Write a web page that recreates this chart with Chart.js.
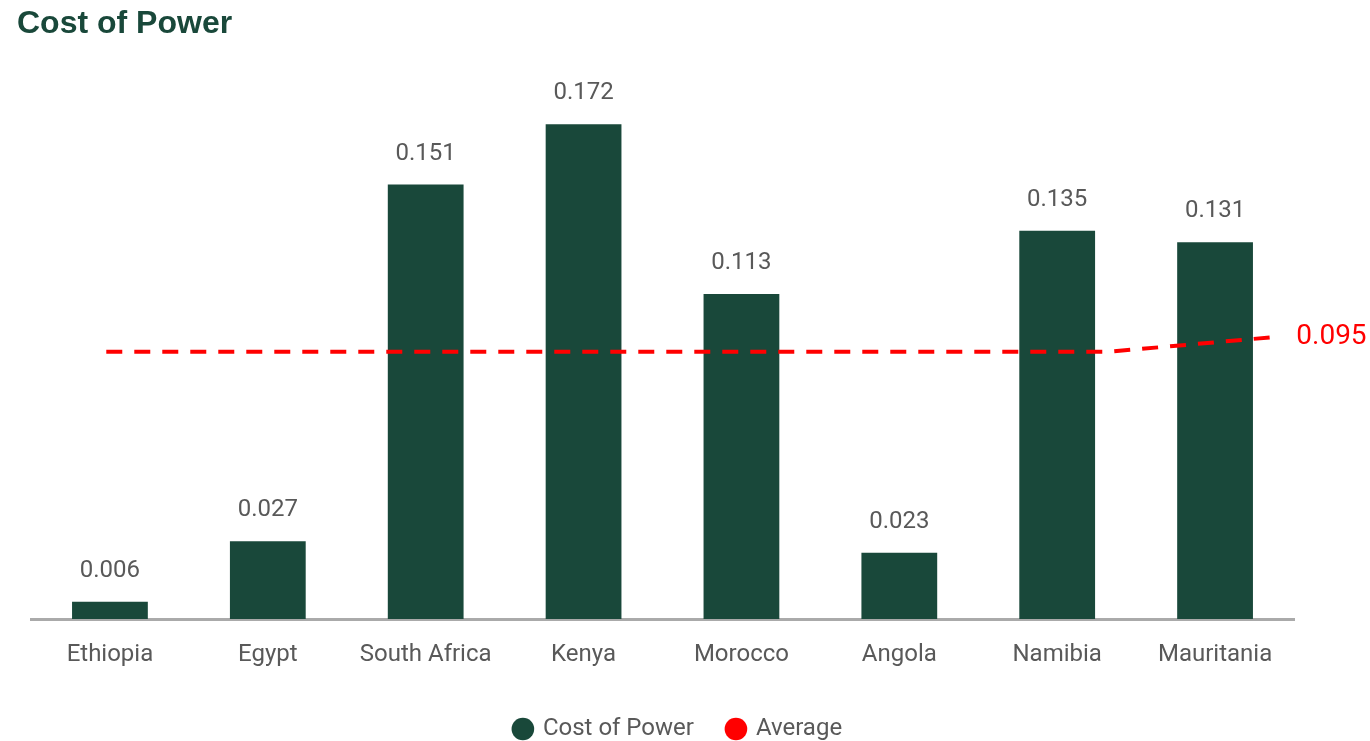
<!DOCTYPE html>
<html>
<head>
<meta charset="utf-8">
<script src="https://cdn.jsdelivr.net/npm/chart.js@4"></script>
<style>
  html, body { margin: 0; padding: 0; background: #fff; }
  #wrap { width: 1370px; height: 741px; }
</style>
</head>
<body>
<div id="wrap"><canvas id="powerChart"></canvas></div>
<script>
const countries = ["Ethiopia", "Egypt", "South Africa", "Kenya", "Morocco", "Angola", "Namibia", "Mauritania"];
const costOfPower = [0.006, 0.027, 0.151, 0.172, 0.113, 0.023, 0.135, 0.131];
const averageLine = [0.090, 0.090, 0.090, 0.090, 0.090, 0.090, 0.090, 0.095];

const green = "#19483a";
const grey = "#595959";

// value labels above bars and at the end of the average line
const valueLabels = {
    id: "valueLabels",
    afterDatasetsDraw(chart) {
        const ctx = chart.ctx;
        ctx.save();
        chart.getDatasetMeta(0).data.forEach((bar, i) => {
            ctx.font = "24px Roboto";
            ctx.fillStyle = grey;
            ctx.textAlign = "center";
            ctx.textBaseline = "middle";
            ctx.fillText(costOfPower[i].toFixed(3), bar.x, bar.y - 31);
        });
        const pts = chart.getDatasetMeta(1).data;
        const last = pts[pts.length - 1];
        ctx.font = "28px Roboto";
        ctx.fillStyle = "#ff0000";
        ctx.textAlign = "left";
        ctx.fillText(averageLine[averageLine.length - 1].toFixed(3), last.x + 19, last.y);
        ctx.restore();
    }
};

new Chart(document.getElementById("powerChart"), {
    data: {
        labels: countries,
        datasets: [
            {
                type: "bar",
                label: "Cost of Power",
                data: costOfPower,
                backgroundColor: green,
                grouped: false,
                barPercentage: 0.96,
                categoryPercentage: 0.5,
                order: 2
            },
            {
                type: "line",
                label: "Average",
                data: averageLine.map((v, i) => ({ x: i, y: v })),
                xAxisID: "xAvg",
                yAxisID: "yAvg",
                borderColor: "#ff0000",
                backgroundColor: "#ff0000",
                borderWidth: 4,
                borderDash: [16, 12],
                pointRadius: 0,
                tension: 0,
                order: 1
            }
        ]
    },
    options: {
        responsive: true,
        maintainAspectRatio: false,
        animation: false,
        layout: { padding: { top: 0, left: 17, right: 30, bottom: -10 } },
        scales: {
            x: {
                grid: { display: false, drawTicks: false },
                border: { display: true, color: "#aaaaaa", width: 3 },
                ticks: { color: grey, font: { family: "Roboto", size: 24 }, padding: 22, maxRotation: 0 },
                afterFit(scale) { scale.height = 64; }
            },
            xAvg: { type: "linear", display: false, min: -0.45, max: 7.1 },
            y: {
                min: 0,
                max: 0.19,
                grid: { display: false },
                border: { display: false },
                ticks: { display: false },
                afterFit(scale) { scale.width = 14; }
            },
            yAvg: {
                position: "right",
                min: 0,
                max: 0.184,
                grid: { display: false },
                border: { display: false },
                ticks: { display: false },
                afterFit(scale) { scale.width = 46; }
            }
        },
        plugins: {
            title: {
                display: true,
                text: "Cost of Power",
                align: "start",
                color: green,
                font: { family: "Liberation Sans", size: 32, weight: "bold" },
                padding: { top: 5, bottom: 29 }
            },
            legend: {
                position: "bottom",
                labels: {
                    usePointStyle: true,
                    pointStyle: "circle",
                    boxWidth: 16,
                    boxHeight: 16,
                    padding: 34,
                    color: grey,
                    font: { family: "Roboto", size: 24 },
                    sort: (a, b) => a.datasetIndex - b.datasetIndex,
                    generateLabels(chart) {
                        return Chart.defaults.plugins.legend.labels.generateLabels(chart).map(item => {
                            item.lineWidth = 0;
                            item.lineDash = [];
                            return item;
                        });
                    }
                }
            },
            tooltip: { enabled: false }
        }
    },
    plugins: [valueLabels]
});
</script>
</body>
</html>
